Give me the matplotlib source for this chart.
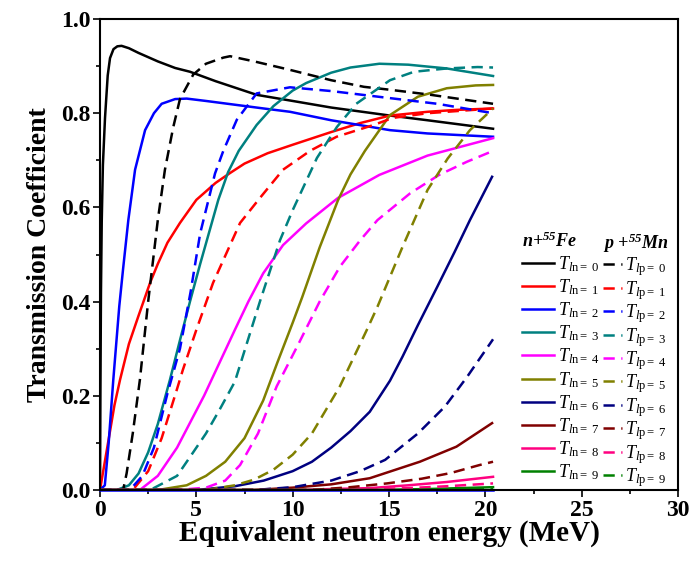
import matplotlib
matplotlib.use("Agg")
import matplotlib.pyplot as plt

plt.rcParams['font.family'] = ['Liberation Serif', 'DejaVu Serif']
plt.rcParams['mathtext.fontset'] = 'custom'
plt.rcParams['mathtext.rm'] = 'Liberation Serif'
plt.rcParams['mathtext.it'] = 'Liberation Serif:italic'
plt.rcParams['mathtext.bf'] = 'Liberation Serif:bold:italic'

# n + 55Fe, T_ln (solid)
n0_x = [0, 0.02, 0.05, 0.09, 0.15, 0.26, 0.4, 0.52, 0.7, 0.9, 1.12, 1.5, 2, 3, 3.9, 4.67, 6, 8.13, 10, 12, 15.05, 17, 20.4]
n0_y = [0, 0.2, 0.42, 0.57, 0.69, 0.79, 0.88, 0.917, 0.936, 0.942, 0.943, 0.938, 0.928, 0.91, 0.896, 0.888, 0.868, 0.839, 0.826, 0.812, 0.795, 0.785, 0.767]
n1_x = [0, 0.25, 0.5, 0.75, 1.04, 1.5, 2, 2.6, 3, 3.5, 4.15, 5, 6, 6.75, 7.5, 8.7, 10, 12, 13.5, 15.05, 17, 18.5, 20.4]
n1_y = [0, 0.06, 0.12, 0.18, 0.234, 0.31, 0.37, 0.44, 0.48, 0.525, 0.567, 0.616, 0.652, 0.673, 0.693, 0.715, 0.733, 0.76, 0.779, 0.795, 0.803, 0.807, 0.81]
n2_x = [0, 0.25, 0.45, 0.69, 1.0, 1.2, 1.47, 1.82, 2.34, 2.8, 3.2, 3.9, 4.5, 5.5, 7, 8.5, 9.86, 12, 15.05, 17, 20.4]
n2_y = [0, 0.01, 0.1, 0.234, 0.39, 0.47, 0.573, 0.68, 0.764, 0.80, 0.82, 0.83, 0.831, 0.826, 0.818, 0.81, 0.803, 0.785, 0.764, 0.757, 0.75]
n3_x = [0, 0.87, 1.5, 2, 2.5, 3, 3.63, 4.15, 4.67, 5.2, 6.14, 6.65, 7.2, 8.13, 9, 10, 10.7, 12, 13, 14.5, 16, 18, 20.4]
n3_y = [0, 0, 0.01, 0.035, 0.08, 0.14, 0.234, 0.318, 0.40, 0.48, 0.616, 0.675, 0.72, 0.775, 0.815, 0.848, 0.864, 0.886, 0.897, 0.905, 0.903, 0.895, 0.879]
n4_x = [0, 2.07, 3, 4, 4.7, 5.4, 6.2, 7, 7.7, 8.47, 9.5, 10.7, 12.35, 14.5, 17, 20.4]
n4_y = [0, 0, 0.03, 0.09, 0.145, 0.2, 0.27, 0.34, 0.40, 0.46, 0.52, 0.566, 0.62, 0.669, 0.71, 0.747]
n5_x = [0, 3, 4.5, 5.5, 6.5, 7.5, 8.47, 9.2, 10, 10.5, 11.4, 12.35, 13, 13.75, 15.05, 16.5, 18, 19.5, 20.4]
n5_y = [0, 0, 0.01, 0.03, 0.06, 0.11, 0.19, 0.27, 0.355, 0.41, 0.515, 0.615, 0.67, 0.72, 0.796, 0.835, 0.853, 0.859, 0.86]
n6_x = [0, 5, 7, 8.5, 10, 11, 12, 13, 14, 15.05, 15.7, 16.5, 17.5, 18.4, 19.2, 20.35]
n6_y = [0, 0, 0.008, 0.02, 0.04, 0.06, 0.09, 0.125, 0.166, 0.232, 0.283, 0.35, 0.431, 0.505, 0.573, 0.665]
n7_x = [0, 8, 10, 12, 14, 16.6, 18.5, 20.35]
n7_y = [0, 0, 0.005, 0.012, 0.025, 0.06, 0.092, 0.142]
n8_x = [0, 10, 14, 16, 18, 20.4]
n8_y = [0, 0, 0.004, 0.01, 0.017, 0.028]
n9_x = [0, 14, 17, 20.4]
n9_y = [0, 0, 0.002, 0.006]

# p + 55Mn, T_lp (dashed)
p0_x = [0, 1.2, 1.38, 1.7, 2.07, 2.5, 3.0, 3.37, 3.8, 4.15, 4.84, 5.5, 6.4, 6.75, 8, 9.86, 12, 13.7, 15, 17, 20.4]
p0_y = [0, 0, 0.035, 0.12, 0.234, 0.40, 0.573, 0.68, 0.77, 0.83, 0.882, 0.905, 0.918, 0.921, 0.91, 0.892, 0.87, 0.856, 0.85, 0.84, 0.82]
p1_x = [0, 1.7, 2.5, 3.2, 3.98, 4.3, 5.0, 5.87, 7.27, 8.3, 9.5, 10.9, 12.28, 14.2, 15.2, 17, 20.4]
p1_y = [0, 0, 0.04, 0.11, 0.212, 0.255, 0.34, 0.44, 0.567, 0.62, 0.68, 0.72, 0.75, 0.775, 0.79, 0.80, 0.81]
p2_x = [0, 1.55, 2.2, 2.8, 3.5, 4.15, 4.7, 5.2, 5.97, 6.4, 7.1, 8.13, 9.86, 12, 15.05, 17.5, 20.4]
p2_y = [0, 0, 0.03, 0.09, 0.205, 0.30, 0.42, 0.545, 0.672, 0.72, 0.786, 0.842, 0.855, 0.847, 0.832, 0.82, 0.80]
p3_x = [0, 2.6, 4, 4.67, 5.5, 6.2, 7, 8.3, 9.34, 10, 11.26, 12.3, 13.3, 15.05, 16.3, 18, 19.6, 20.4]
p3_y = [0, 0, 0.03, 0.07, 0.12, 0.17, 0.23, 0.40, 0.53, 0.594, 0.705, 0.771, 0.82, 0.87, 0.888, 0.895, 0.898, 0.897]
p4_x = [0, 4, 5.5, 6.5, 7.27, 8.2, 9.17, 10.3, 11.4, 12.45, 13.5, 14.4, 16.1, 17.6, 19.05, 20.4]
p4_y = [0, 0, 0.005, 0.02, 0.053, 0.12, 0.22, 0.31, 0.40, 0.474, 0.53, 0.573, 0.63, 0.669, 0.697, 0.72]
p5_x = [0, 5.5, 7, 8, 9, 10, 11, 12.45, 13.85, 14.4, 15.7, 17.0, 18.05, 19.2, 20.4]
p5_y = [0, 0, 0.01, 0.022, 0.043, 0.075, 0.12, 0.22, 0.34, 0.389, 0.516, 0.637, 0.704, 0.764, 0.81]
p6_x = [0, 8, 10, 12, 13.5, 14.8, 16.5, 17.9, 19.05, 20.4]
p6_y = [0, 0, 0.006, 0.02, 0.04, 0.064, 0.12, 0.177, 0.24, 0.32]
p7_x = [0, 11, 13, 14.9, 16.7, 18.2, 19.7, 20.4]
p7_y = [0, 0, 0.006, 0.014, 0.024, 0.036, 0.053, 0.06]
p8_x = [0, 13, 16, 18, 20.4]
p8_y = [0, 0, 0.004, 0.008, 0.014]
p9_x = [0, 16, 20.4]
p9_y = [0, 0, 0.003]

# zero line drawn along the axis in the original
base_x = [0, 20.4]
base_y = [0, 0]

n_curves = [(n0_x, n0_y), (n1_x, n1_y), (n2_x, n2_y), (n3_x, n3_y), (n4_x, n4_y),
            (n5_x, n5_y), (n6_x, n6_y), (n7_x, n7_y), (n8_x, n8_y), (n9_x, n9_y)]
p_curves = [(p0_x, p0_y), (p1_x, p1_y), (p2_x, p2_y), (p3_x, p3_y), (p4_x, p4_y),
            (p5_x, p5_y), (p6_x, p6_y), (p7_x, p7_y), (p8_x, p8_y), (p9_x, p9_y)]
colors = ['#000000', '#ff0000', '#0000ff', '#008080', '#ff00ff',
          '#808000', '#000080', '#800000', '#ff0080', '#008000']

fig = plt.figure(figsize=(6.95, 5.62), dpi=100)
ax = fig.add_axes([100 / 695, 1 - 490 / 562, 578 / 695, 471 / 562])

lw = 1.8
n_handles = []
p_handles = []
for l, ((x, y), c) in enumerate(zip(n_curves, colors)):
    h, = ax.plot(x, y, color=c, lw=lw, label=r'$T_{l\mathrm{n}=\ %d}$' % l)
    n_handles.append(h)
for l, ((x, y), c) in enumerate(zip(p_curves, colors)):
    h, = ax.plot(x, y, color=c, lw=lw, dashes=(4.5, 2.6), label=r'$T_{l\mathrm{p}=\ %d}$' % l)
    p_handles.append(h)
ax.plot(base_x, base_y, color='#0000ff', lw=lw, clip_on=False)

ax.set_xlim(0, 30)
ax.set_ylim(0, 1.0)
ax.set_xticks([0, 5, 10, 15, 20, 25, 30])
ax.set_xticks([2.5, 7.5, 12.5, 17.5, 22.5, 27.5], minor=True)
ax.set_yticks([0, 0.2, 0.4, 0.6, 0.8, 1.0])
ax.set_yticks([0.1, 0.3, 0.5, 0.7, 0.9], minor=True)
ax.set_yticklabels(['0.0', '0.2', '0.4', '0.6', '0.8', '1.0'])

for s in ax.spines.values():
    s.set_linewidth(1.5)
ax.tick_params(which='both', direction='out', width=1.2, labelsize=17, pad=2)
ax.tick_params(which='major', length=5)
ax.tick_params(which='minor', length=3)
for lab in ax.get_xticklabels() + ax.get_yticklabels():
    lab.set_fontweight('bold')

ax.set_xlabel('Equivalent neutron energy (MeV)', fontsize=21, fontweight='bold', labelpad=-1)
ax.set_ylabel('Transmission Coefficient', fontsize=20, fontweight='bold', labelpad=6)

title_font = {'size': 13, 'weight': 'bold', 'style': 'italic'}
leg1 = ax.legend(handles=n_handles, title=r'n+$^{\mathbf{55}}$Fe', title_fontproperties=title_font,
                 loc='upper left', bbox_to_anchor=(0.730, 0.549), frameon=False,
                 fontsize=13, handlelength=1.8, handletextpad=0.2, labelspacing=0.19,
                 borderpad=0, borderaxespad=0, alignment='left')
ax.add_artist(leg1)
leg2 = ax.legend(handles=p_handles, title=r'p +$^{\mathbf{55}}$Mn', title_fontproperties=title_font,
                 loc='upper left', bbox_to_anchor=(0.870, 0.549), frameon=False,
                 fontsize=13, handlelength=1.05, handletextpad=0.2, labelspacing=0.03,
                 borderpad=0, borderaxespad=0, alignment='left')

fig.savefig('out.png', dpi=100)
